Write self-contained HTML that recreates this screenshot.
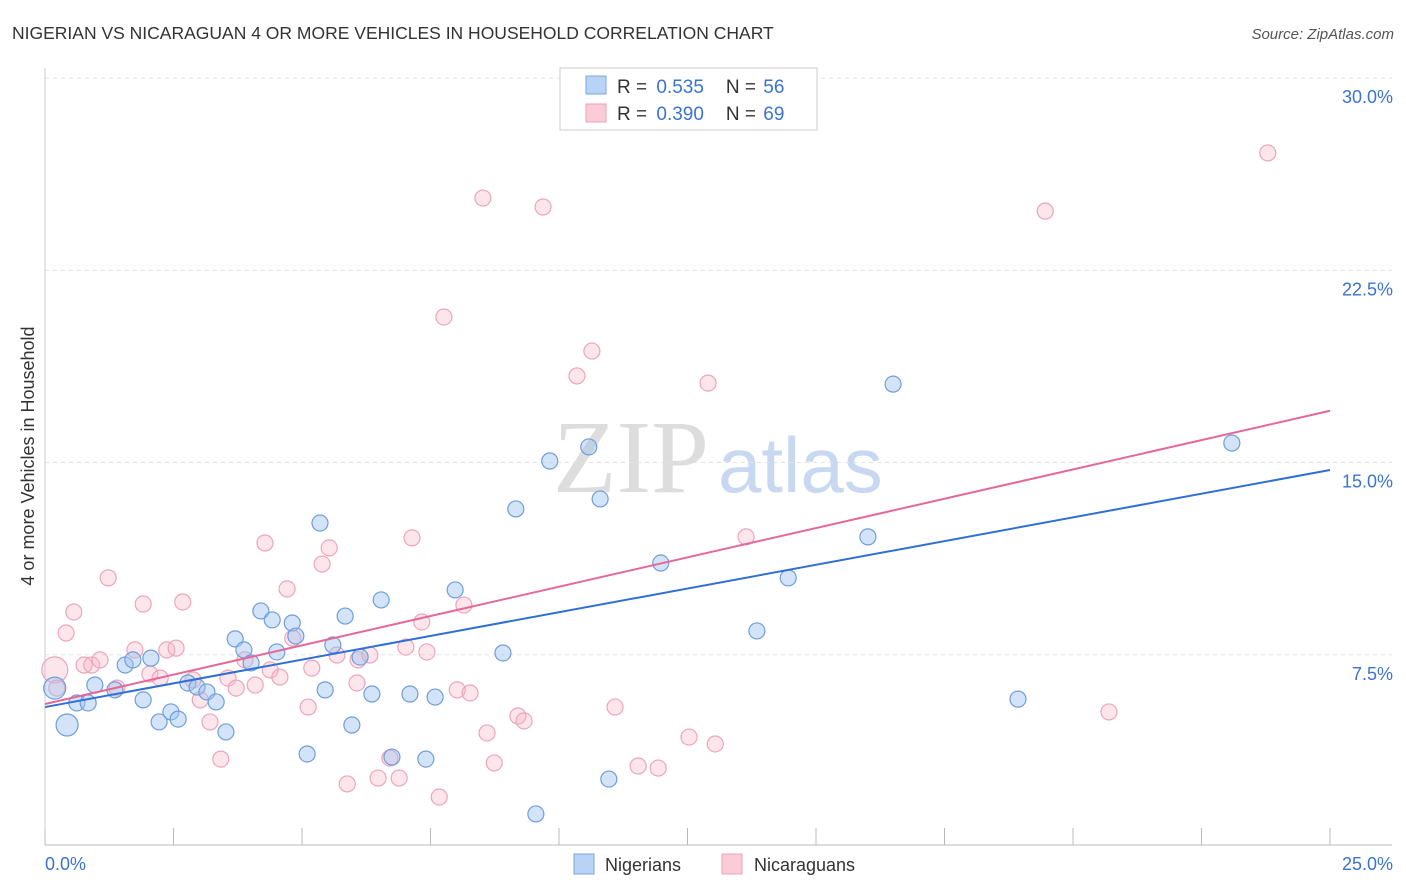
<!DOCTYPE html>
<html><head><meta charset="utf-8"><style>
body{margin:0;background:#fff;font-family:"Liberation Sans",sans-serif;}
#wrap{position:relative;width:1406px;height:892px;overflow:hidden}
</style></head><body>
<div id="wrap">
<svg id="chart" width="1406" height="892">
<text x="12" y="39" font-size="17.5" fill="#333">NIGERIAN VS NICARAGUAN 4 OR MORE VEHICLES IN HOUSEHOLD CORRELATION CHART</text>
<text x="1394" y="39" font-size="15" fill="#555" font-style="italic" text-anchor="end">Source: ZipAtlas.com</text>
<text x="34" y="456" font-size="18" fill="#333" text-anchor="middle" transform="rotate(-90 34 456)">4 or more Vehicles in Household</text>
<text x="553" y="492" font-size="104" fill="#ddd" font-family="Liberation Serif">ZIP</text>
<text x="718" y="492" font-size="78" fill="#c8d8f0">atlas</text>
<g id="grid"></g><g id="pts"></g><g id="lines"></g>
<g>
<rect x="560" y="68" width="257" height="62" fill="#fff" stroke="#ccc"/>
<rect x="586" y="76" width="20" height="18" fill="#b8d3f5" stroke="#7aa6e0"/>
<rect x="586" y="104" width="20" height="18" fill="#fbcbd8" stroke="#eba0b6"/>
<text x="617" y="93" font-size="19" fill="#333">R = <tspan fill="#3b73d1" dx="4">0.535</tspan><tspan dx="22" fill="#333">N = </tspan><tspan fill="#3b73d1" dx="2">56</tspan></text>
<text x="617" y="120" font-size="19" fill="#333">R = <tspan fill="#3b73d1" dx="4">0.390</tspan><tspan dx="22" fill="#333">N = </tspan><tspan fill="#3b73d1" dx="2">69</tspan></text>
</g>
<g>
<rect x="574" y="854" width="20" height="20" fill="#b8d3f5" stroke="#7aa6e0"/>
<text x="605" y="871" font-size="18" fill="#333">Nigerians</text>
<rect x="722" y="854" width="20" height="20" fill="#fbcbd8" stroke="#eba0b6"/>
<text x="754" y="871" font-size="18" fill="#333">Nicaraguans</text>
</g>
</svg>
</div>
<script>
const yTicks=[7.5,15,22.5,30];
const yTickLabels=["7.5%","15.0%","22.5%","30.0%"];
const xTicks=[0,2.5,5,7.5,10,12.5,15,17.5,20,22.5,25];
const xEndLabels=["0.0%","25.0%"];
const nigX=[0.19,0.43,0.62,0.84,0.97,1.36,1.56,1.71,1.91,2.06,2.22,2.45,2.59,2.78,2.96,3.15,3.33,3.52,3.70,3.87,4.01,4.20,4.42,4.51,4.81,4.88,5.10,5.35,5.45,5.60,5.84,5.97,6.13,6.36,6.54,6.75,7.10,7.41,7.59,7.98,8.91,9.16,9.55,9.82,10.58,10.80,10.97,11.98,13.85,14.46,16.01,16.50,18.93,23.09];
const nigY=[6.20,4.76,5.62,5.62,6.32,6.13,7.10,7.30,5.74,7.37,4.88,5.27,4.99,6.40,6.24,6.05,5.66,4.49,8.12,7.69,7.18,9.21,8.86,7.61,8.74,8.23,3.63,12.64,6.13,7.88,9.01,4.76,7.41,5.97,9.64,3.51,5.97,3.43,5.85,10.03,7.57,13.19,1.29,15.06,15.61,13.58,2.65,11.08,8.43,10.50,12.10,18.06,5.77,15.76];
const nicX=[0.19,0.23,0.41,0.56,0.76,0.91,1.07,1.23,1.40,1.75,1.91,2.04,2.24,2.37,2.55,2.68,2.88,3.02,3.21,3.42,3.56,3.72,3.89,4.09,4.28,4.38,4.57,4.71,4.82,5.12,5.19,5.39,5.53,5.68,5.88,6.07,6.09,6.32,6.48,6.71,6.89,7.02,7.14,7.33,7.43,7.67,7.76,8.02,8.15,8.27,8.52,8.60,8.74,9.20,9.32,9.69,10.35,10.64,11.09,11.54,11.93,12.53,12.90,13.04,13.64,19.46,20.70,23.79];
const nicY=[6.91,6.20,8.35,9.17,7.10,7.10,7.30,10.50,6.20,7.69,9.48,6.75,6.59,7.69,7.76,9.56,6.52,5.74,4.88,3.43,6.59,6.20,7.30,6.32,11.86,6.91,6.63,10.07,8.15,5.46,6.98,11.04,11.67,7.49,2.46,6.40,7.30,7.49,2.69,3.47,2.69,7.80,12.06,8.78,7.61,1.95,20.68,6.13,9.44,6.01,25.32,4.45,3.28,5.11,4.92,24.97,18.38,19.35,5.46,3.16,3.08,4.29,18.10,4.02,12.10,24.81,5.27,27.08];
const nigTrend=[5.46,14.71];
const nicTrend=[5.58,17.02];
const NS="http://www.w3.org/2000/svg";
const X=v=>45+v/25*1285, Y=v=>847-v*25.63;
function mk(tag,attrs,parent){const e=document.createElementNS(NS,tag);for(const k in attrs)e.setAttribute(k,attrs[k]);parent.appendChild(e);return e;}
const grid=document.getElementById('grid'),pts=document.getElementById('pts'),lines=document.getElementById('lines');
yTicks.forEach((t,i)=>{
 const l=mk('line',{x1:45,x2:1392,y1:Y(t),y2:Y(t),stroke:'#e3e3e3','stroke-dasharray':'4 4'},grid);
 
 
 const tx=mk('text',{x:1393,y:Y(t)+25,'font-size':18,fill:'#3b73d1','text-anchor':'end'},grid);
 tx.textContent=yTickLabels[i];
 
 
});
const ax=mk('line',{x1:45,x2:1392,y1:845,y2:845,stroke:'#bbb'},grid);


const ay=mk('line',{x1:45,x2:45,y1:68,y2:845,stroke:'#ccc'},grid);


xTicks.forEach(t=>{
 const l=mk('line',{x1:X(t),x2:X(t),y1:828,y2:845,stroke:'#bbb'},grid);
 
 
});
const xl0=mk('text',{x:45,y:870,'font-size':18,fill:'#3b73d1'},grid);xl0.textContent=xEndLabels[0];


const xl1=mk('text',{x:1393,y:870,'font-size':18,fill:'#3b73d1','text-anchor':'end'},grid);xl1.textContent=xEndLabels[1];


nicX.forEach((x,i)=>{
 const c=mk('circle',{cx:X(x),cy:Y(nicY[i]),r:i==0?13:8,fill:'rgba(248,180,200,0.35)',stroke:'#eca5ba','stroke-width':1.2},pts);
 
 
});
nigX.forEach((x,i)=>{
 const c=mk('circle',{cx:X(x),cy:Y(nigY[i]),r:i<2?11:8,fill:'rgba(160,196,240,0.45)',stroke:'#6f9edb','stroke-width':1.2},pts);
 
 
});
const t1=mk('line',{x1:X(0),y1:Y(nigTrend[0]),x2:X(25),y2:Y(nigTrend[1]),stroke:'#2f6fd6','stroke-width':2},lines);


const t2=mk('line',{x1:X(0),y1:Y(nicTrend[0]),x2:X(25),y2:Y(nicTrend[1]),stroke:'#e5689a','stroke-width':2},lines);


</script>
</body></html>
